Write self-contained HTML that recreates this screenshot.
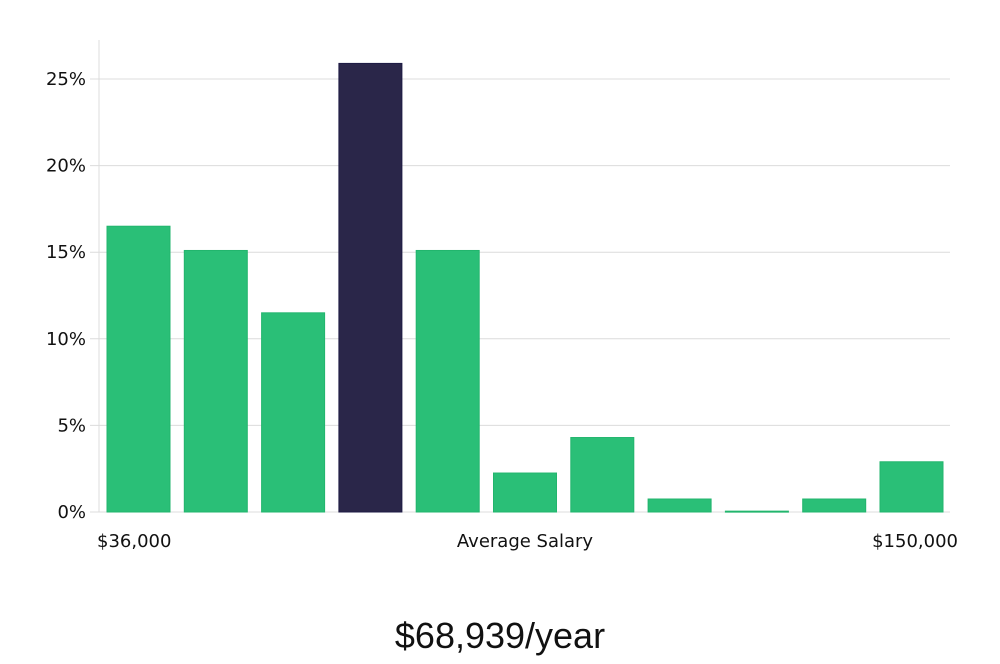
<!DOCTYPE html>
<html><head><meta charset="utf-8"><style>
body{margin:0;background:#fff;width:1000px;height:660px;overflow:hidden;font-family:"DejaVu Sans","Liberation Sans",sans-serif;}
</style></head><body>
<svg id="chart" width="1000" height="660" xmlns="http://www.w3.org/2000/svg"></svg>
<script>
const categories=["b1","b2","b3","b4","b5","b6","b7","b8","b9","b10","b11"];
const values=[16.5,15.1,11.5,25.9,15.1,2.25,4.3,0.75,0.05,0.75,2.9];
const highlightIndex=3;
const yTicks=[0,5,10,15,20,25];
const yTickLabels=["0%","5%","10%","15%","20%","25%"];
const xLabels=["$36,000","Average Salary","$150,000"];
const NS="http://www.w3.org/2000/svg";
const svg=document.getElementById('chart');
const x0=99,x1=950,y0=512,pxPer=17.32;
const y=v=>y0-v*pxPer;
const step=(x1-x0-5)/categories.length;
const bx=i=>x0+8+i*77.3;
function mk(t,a){const e=document.createElementNS(NS,t);for(const k in a)e.setAttribute(k,a[k]);svg.appendChild(e);return e;}
let ax=mk('line',{x1:x0,y1:40,x2:x0,y2:y0,stroke:'#ddd','stroke-width':1});


yTicks.forEach((t,i)=>{
 const g=mk('line',{x1:90,x2:x1,y1:y(t),y2:y(t),stroke:'#dcdcdc','stroke-width':1});
 
 
 const l=mk('text',{x:86,y:y(t)+6,'text-anchor':'end','font-size':18,fill:'#111'});
 l.textContent=yTickLabels[i];
 
 
});
values.forEach((v,i)=>{
 const hi=i===highlightIndex;
 const r=mk('rect',{x:bx(i),y:y(v),width:63,height:Math.max(v*pxPer,1),fill:hi?'#2a2649':'#2abf77',stroke:hi?'#1e1b45':'#22b56d','stroke-width':1});
 
 
});
const xl=[[97,'start'],[525,'middle'],[958,'end']];
xLabels.forEach((t,i)=>{
 const l=mk('text',{x:xl[i][0],y:547,'text-anchor':xl[i][1],'font-size':18,fill:'#111'});
 l.textContent=t;
 
 
});
const s=mk('text',{x:500,y:648,'text-anchor':'middle','font-size':36,fill:'#111','font-family':'"Liberation Sans",sans-serif'});
s.textContent='$68,939/year';


</script>
</body></html>
